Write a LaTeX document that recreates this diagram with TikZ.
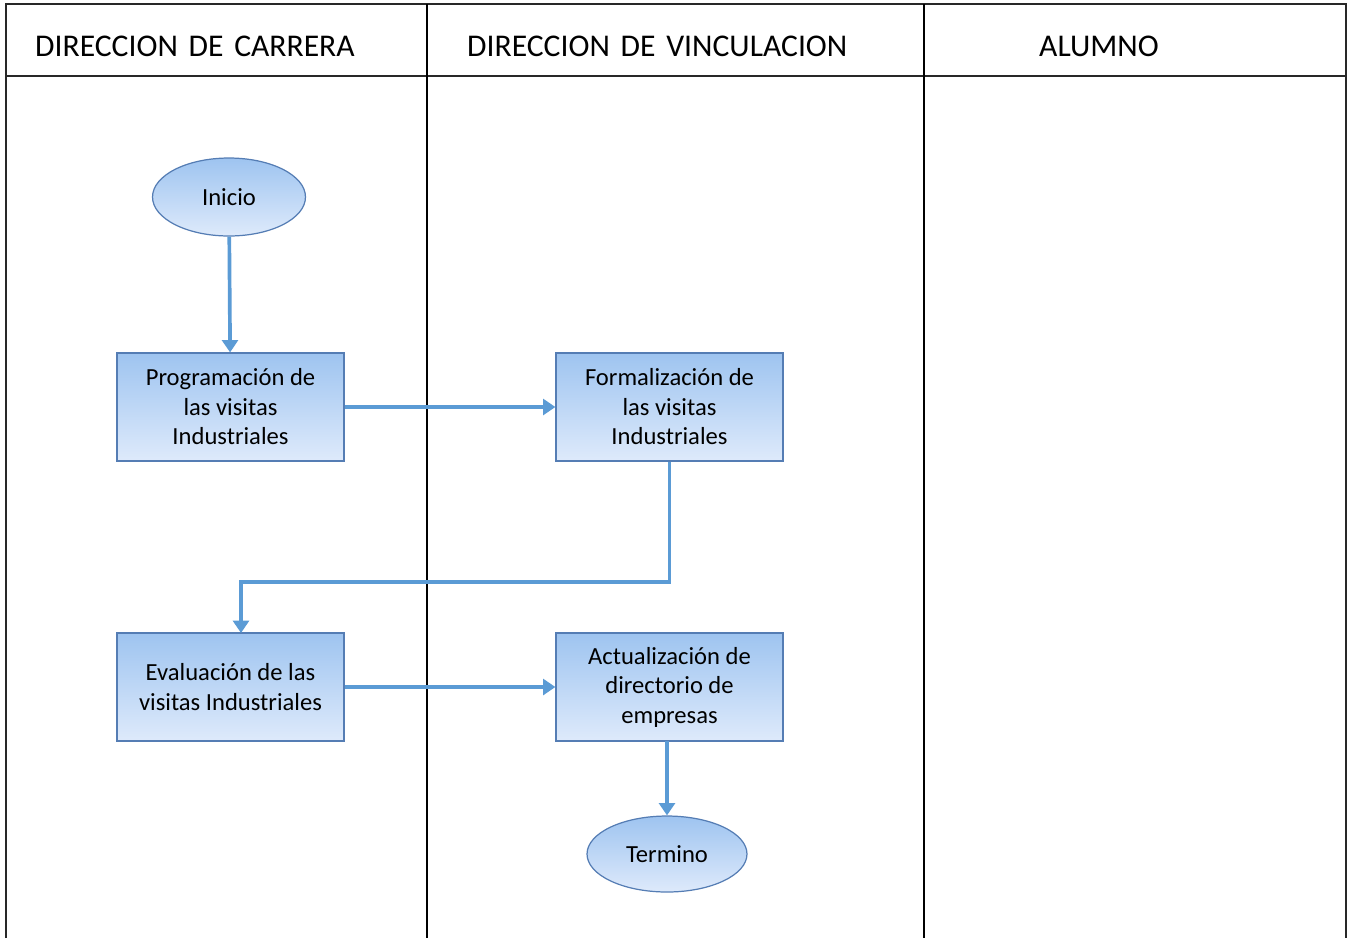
\documentclass[tikz,border=0pt]{standalone}
\usepackage{fontspec}
\setmainfont{Carlito}
\usepackage{tikz}
\usetikzlibrary{shapes.geometric, arrows.meta}

\definecolor{boxtop}{RGB}{158,196,240}
\definecolor{boxbot}{RGB}{222,234,251}
\definecolor{boxline}{RGB}{85,125,180}
\definecolor{flow}{RGB}{91,155,213}
\definecolor{lane}{RGB}{40,40,40}

\newcommand{\gap}{\hspace{0.34em}}

\tikzset{
  proc/.style={draw=boxline, line width=0.7pt, top color=boxtop, bottom color=boxbot,
    minimum width=4.54cm, minimum height=2.16cm, align=center,
    font=\fontsize{14}{16.8}\selectfont},
  term/.style={ellipse, draw=boxline, line width=0.7pt, top color=boxtop, bottom color=boxbot,
    inner sep=0pt, font=\fontsize{14}{16.8}\selectfont},
  flowline/.style={draw=flow, line width=2.1pt, -{Triangle[length=7pt,width=9pt]}},
  lanehead/.style={font=\fontsize{18}{22}\selectfont, anchor=west}
}

\begin{document}
\begin{tikzpicture}[x=0.02cm, y=-0.02cm]
  \useasboundingbox (0,0) rectangle (1348,938);
  \draw[lane, line width=0.8pt] (6,938) -- (6,4) -- (1346,4) -- (1346,938);
  \draw[lane, line width=0.8pt] (6,76) -- (1346,76);
  \draw[black, line width=0.8pt] (427,4) -- (427,938);
  \draw[black, line width=0.8pt] (924,4) -- (924,938);
  \node[lanehead] (hcar) at (29,46) {DIRECCION\gap DE\gap CARRERA};
  \node[lanehead] (hvin) at (461,46) {DIRECCION\gap DE\gap VINCULACION};
  \node[lanehead] (halu) at (1033,46) {ALUMNO};

  \node[term, minimum width=3.06cm, minimum height=1.56cm] (ini) at (229,197) {Inicio};
  \node[proc] (prog) at (230.5,407) {Programación de\\las visitas\\Industriales};
  \node[proc] (form) at (669.5,407) {Formalización de\\las visitas\\Industriales};
  \node[proc] (eval) at (230.5,687) {Evaluación de las\\visitas Industriales};
  \node[proc] (act) at (669.5,687) {Actualización de\\directorio de\\empresas};
  \node[term, minimum width=3.2cm, minimum height=1.52cm] (fin) at (667,854) {Termino};

  \draw[flowline] (ini) -- (prog);
  \draw[flowline] (prog) -- (form);
  \draw[flowline] (form.south) -- (669.5,582) -- (241,582) -- (241,633);
  \draw[flowline] (eval) -- (act);
  \draw[flowline] (667,741) -- (fin);
\end{tikzpicture}
\end{document}
